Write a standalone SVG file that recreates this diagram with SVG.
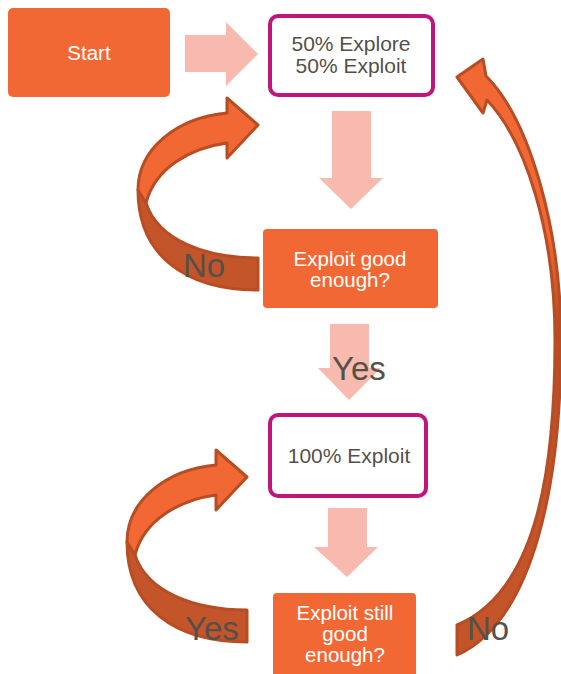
<svg xmlns="http://www.w3.org/2000/svg" width="561" height="674" viewBox="0 0 561 674">
  <style>
    .box { fill: #F26835; }
    .pbox { fill: #FFFFFF; stroke: #C0157D; stroke-width: 4; }
    .wt { fill: #FFFFFF; font-family: "Liberation Sans", Arial, sans-serif; font-size: 20.5px; text-anchor: middle; }
    .dt { fill: #555048; font-family: "Liberation Sans", Arial, sans-serif; font-size: 21px; text-anchor: middle; }
    .lbl { fill: #555048; font-family: "Liberation Sans", Arial, sans-serif; font-size: 33px; }
    .pink { fill: #F8B9AE; }
    .cur { stroke: #B84C23; stroke-width: 3; stroke-linejoin: round; }
    .light { fill: #F26835; }
    .dark { fill: #C4552A; }
  </style>
  <defs>
    <linearGradient id="rg" x1="0" y1="0" x2="0" y2="1">
      <stop offset="0" stop-color="#F26835"/>
      <stop offset="0.3" stop-color="#F26835"/>
      <stop offset="0.45" stop-color="#B84C23"/>
      <stop offset="0.75" stop-color="#C4552A"/>
      <stop offset="1" stop-color="#C4552A"/>
    </linearGradient>
    <g id="curvedArrow">
      <path class="cur dark" d="M258,258 C205,258 158,240 146,203 L138,190 C138,255 185,290 258,290 Z"/>
      <path class="cur light" d="M138,190 C138,150 175,118 227,113 L227,98 L258,125 L227,158 L227,143 C190,148 155,168 146,203 Z"/>
    </g>
  </defs>

  <g id="connectors">
    <path class="pink" d="M185,35 L226,35 L226,22 L258,54 L226,86 L226,72 L185,72 Z"/>
    <path class="pink" d="M332,111 L371,111 L371,178 L383,178 L351,209 L319,178 L332,178 Z"/>
    <path class="pink" d="M330,324 L369,324 L369,368 L381,368 L349,400 L318,368 L330,368 Z"/>
    <path class="pink" d="M328,508 L367,508 L367,547 L378,547 L347,577 L314,547 L328,547 Z"/>
    <use href="#curvedArrow"/>
    <use href="#curvedArrow" transform="translate(-11,352)"/>
    <path class="cur" fill="url(#rg)" d="M457,77 L483,59 L486,76 C530,120 561,230 561,340 C561,480 535,620 457,655 L457,625 C540,590 555,460 555,340 C555,230 525,140 487,100 L483,113 Z"/>
    <text class="lbl" x="183" y="277">No</text>
    <text class="lbl" x="332" y="380">Yes</text>
    <text class="lbl" x="185" y="640">Yes</text>
    <text class="lbl" x="467" y="640">No</text>
  </g>

  <g id="start">
    <rect class="box" x="8" y="8" width="162" height="89" rx="5"/>
    <text class="wt" x="89" y="60">Start</text>
  </g>
  <g id="explore50">
    <rect class="pbox" x="270" y="16" width="163" height="79" rx="8"/>
    <text class="dt" x="351" y="51">50% Explore</text>
    <text class="dt" x="351" y="73">50% Exploit</text>
  </g>
  <g id="check1">
    <rect class="box" x="263" y="229" width="175" height="79" rx="4"/>
    <text class="wt" x="350" y="266">Exploit good</text>
    <text class="wt" x="350" y="287">enough?</text>
  </g>
  <g id="exploit100">
    <rect class="pbox" x="270" y="415" width="156" height="81" rx="8"/>
    <text class="dt" x="349" y="463">100% Exploit</text>
  </g>
  <g id="check2">
    <rect class="box" x="273" y="593" width="143" height="90" rx="4"/>
    <text class="wt" x="345" y="620">Exploit still</text>
    <text class="wt" x="345" y="641">good</text>
    <text class="wt" x="345" y="662">enough?</text>
  </g>
</svg>
